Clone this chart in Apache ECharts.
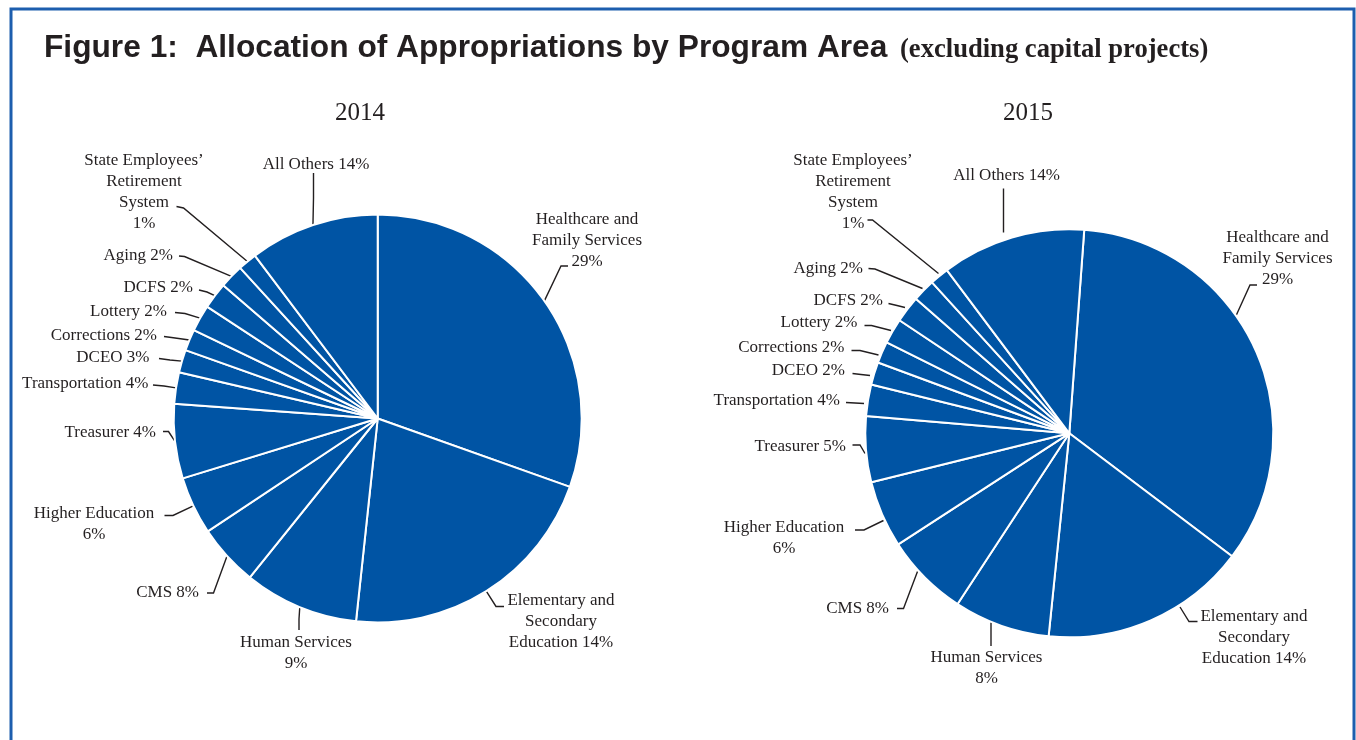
<!DOCTYPE html>
<html>
<head>
<meta charset="utf-8">
<title>Figure 1: Allocation of Appropriations by Program Area</title>
<script src="https://cdn.jsdelivr.net/npm/echarts@6/dist/echarts.min.js"></script>
<style>
  html, body { margin: 0; padding: 0; background: #fff; }
  #chart { width: 1356px; height: 740px; }
</style>
</head>
<body>
<div id="chart"></div>
<script>
  // program areas, clockwise from 12 o'clock
  var programs = ['Healthcare and Family Services', 'Elementary and Secondary Education', 'Human Services',
    'CMS', 'Higher Education', 'Treasurer', 'Transportation', 'DCEO', 'Corrections', 'Lottery',
    'DCFS', 'Aging', 'State Employees\u2019 Retirement System', 'All Others'];

  // slice sizes as drawn (%)
  var share2014 = [30.5, 21.3, 9.1, 4.9, 4.6, 5.9, 2.5, 1.8, 1.7, 2.1, 2.1, 1.9, 1.5, 10.3];
  var share2015 = [34.1, 16.3, 7.6, 6.6, 5.3, 5.2, 2.5, 1.8, 1.7, 2.0, 2.1, 1.8, 1.5, 11.4];

  // printed labels
  var labels2014 = ['Healthcare and\nFamily Services\n29%', 'Elementary and\nSecondary\nEducation 14%',
    'Human Services\n9%', 'CMS 8%', 'Higher Education\n6%', 'Treasurer 4%', 'Transportation 4%',
    'DCEO 3%', 'Corrections 2%', 'Lottery 2%', 'DCFS 2%', 'Aging 2%',
    'State Employees\u2019\nRetirement\nSystem\n1%', 'All Others 14%'];
  var labels2015 = ['Healthcare and\nFamily Services\n29%', 'Elementary and\nSecondary\nEducation 14%',
    'Human Services\n8%', 'CMS 8%', 'Higher Education\n6%', 'Treasurer 5%', 'Transportation 4%',
    'DCEO 2%', 'Corrections 2%', 'Lottery 2%', 'DCFS 2%', 'Aging 2%',
    'State Employees\u2019\nRetirement\nSystem\n1%', 'All Others 14%'];

  // label placement: text anchor, elbow and end of the leader line (s = optional start at the pie)
  var place2014 = [
    {x: 587, y: 241, a: 'center', m: [561, 266], e: [568, 266]},
    {x: 561, y: 622, a: 'center', m: [496, 606.5], e: [504, 606.5]},
    {x: 296, y: 653.5, a: 'center', m: [299, 619], e: [299, 630]},
    {x: 199, y: 593, a: 'right', m: [213.5, 593], e: [207, 593]},
    {x: 94, y: 524, a: 'center', m: [173, 515.5], e: [164.5, 515.5]},
    {x: 156, y: 433, a: 'right', m: [168.5, 431.5], e: [163, 431.5]},
    {x: 148.5, y: 383.5, a: 'right', m: [164, 386], e: [153, 385]},
    {x: 149.5, y: 358, a: 'right', m: [170, 360], e: [159, 358.5]},
    {x: 157, y: 336, a: 'right', m: [171.5, 337.5], e: [164, 336.5]},
    {x: 167, y: 312, a: 'right', m: [185, 313.5], e: [175, 312.5]},
    {x: 193, y: 288, a: 'right', m: [207, 292], e: [199, 290]},
    {x: 173, y: 256, a: 'right', m: [184.5, 256.5], e: [179, 256]},
    {x: 144, y: 192.5, a: 'center', m: [183.5, 208], e: [176.5, 206.5]},
    {x: 316, y: 165, a: 'center', m: [313.5, 198], e: [313.5, 173]}
  ];
  var place2015 = [
    {x: 1277.5, y: 259, a: 'center', s: [1235, 318], m: [1250, 285], e: [1257, 285]},
    {x: 1254, y: 637.5, a: 'center', s: [1180, 607], m: [1189, 621.5], e: [1197.5, 621.5]},
    {x: 986.5, y: 668.5, a: 'center', s: [991, 622.5], m: [991, 635], e: [991, 646]},
    {x: 889, y: 608.5, a: 'right', s: [917.5, 571.5], m: [903.5, 608.5], e: [897, 608.5]},
    {x: 784, y: 538.5, a: 'center', s: [883.5, 520.5], m: [864, 530], e: [855, 530]},
    {x: 846, y: 447, a: 'right', s: [865, 453.5], m: [860, 445], e: [852.5, 445]},
    {x: 840, y: 400.5, a: 'right', s: [864, 403.5], m: [855, 403], e: [846, 402.5]},
    {x: 845, y: 371, a: 'right', s: [870, 375.5], m: [861, 374.5], e: [852.5, 373.5]},
    {x: 844.5, y: 347.5, a: 'right', s: [878.5, 355], m: [860, 350.5], e: [851.5, 350.5]},
    {x: 857.5, y: 323, a: 'right', s: [891, 330.5], m: [871.5, 325.5], e: [864.5, 325.5]},
    {x: 883, y: 301, a: 'right', s: [905, 307.5], m: [897, 305.5], e: [888.5, 303.5]},
    {x: 863, y: 268.5, a: 'right', s: [922.5, 288.5], m: [875, 269], e: [868.5, 268.5]},
    {x: 853, y: 192.5, a: 'center', s: [938.5, 273.5], m: [872.5, 220], e: [867.5, 220]},
    {x: 1006.5, y: 176, a: 'center', s: [1003.5, 232.5], m: [1003.5, 210], e: [1003.5, 188.5]}
  ];

  var textFont = '"Liberation Serif", "Times New Roman", serif';

  function pieSeries(name, values, labels, place, center, startAngle) {
    return {
      name: name,
      type: 'pie',
      center: center,
      radius: 204,
      startAngle: startAngle,
      clockwise: true,
      avoidLabelOverlap: false,
      animation: false,
      itemStyle: {color: '#0054a4', borderColor: '#ffffff', borderWidth: 2},
      label: {
        show: true,
        position: 'outside',
        color: '#231f20',
        fontFamily: textFont,
        fontSize: 17,
        lineHeight: 21,
        formatter: function (p) { return labels[p.dataIndex]; }
      },
      labelLine: {show: true, lineStyle: {color: '#231f20', width: 1.4}},
      labelLayout: function (p) {
        var s = place[p.dataIndex];
        var pts = p.labelLinePoints;
        var start = s.s || (pts ? pts[0] : s.m);
        return {
          x: s.x,
          y: s.y,
          align: s.a,
          verticalAlign: 'middle',
          labelLinePoints: [start, s.m, s.e]
        };
      },
      emphasis: {disabled: true},
      data: values.map(function (v, i) { return {name: programs[i], value: v}; })
    };
  }

  var chart = echarts.init(document.getElementById('chart'));
  chart.setOption({
    backgroundColor: '#ffffff',
    animation: false,
    graphic: [
      {type: 'rect', shape: {x: 11, y: 9, width: 1343, height: 760},
        style: {fill: 'none', stroke: '#1d5eae', lineWidth: 3}},
      {type: 'text', x: 44, y: 48, style: {text: 'Figure 1:  Allocation of Appropriations by Program Area',
        font: 'bold 31.7px "Liberation Sans", Arial, sans-serif', fill: '#231f20', verticalAlign: 'middle'}},
      {type: 'text', x: 900, y: 50, style: {text: '(excluding capital projects)',
        font: 'bold 26.6px "Liberation Serif", "Times New Roman", serif', fill: '#231f20', verticalAlign: 'middle'}},
      {type: 'text', x: 360, y: 113, style: {text: '2014', font: '25px ' + textFont, fill: '#231f20',
        align: 'center', verticalAlign: 'middle'}},
      {type: 'text', x: 1028, y: 113, style: {text: '2015', font: '25px ' + textFont, fill: '#231f20',
        align: 'center', verticalAlign: 'middle'}}
    ],
    series: [
      pieSeries('2014', share2014, labels2014, place2014, [377.7, 418.5], 90),
      pieSeries('2015', share2015, labels2015, place2015, [1069.3, 433.3], 85.8)
    ]
  });
</script>
</body>
</html>
